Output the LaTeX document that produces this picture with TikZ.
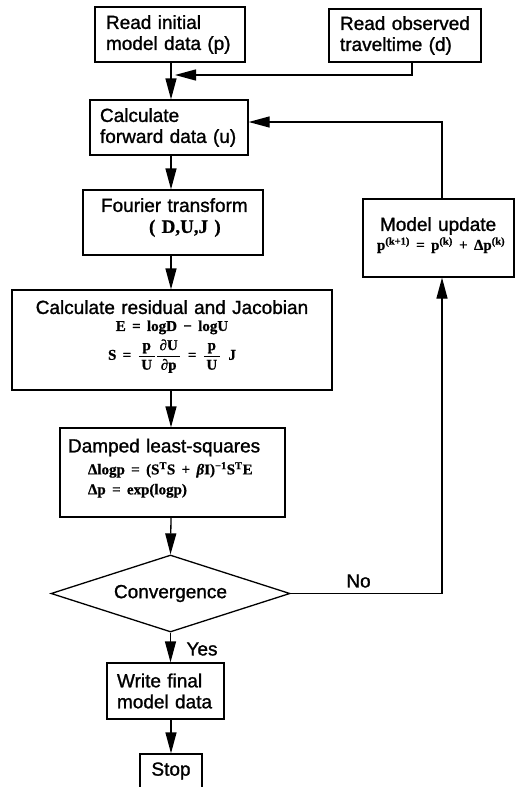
\documentclass[tikz,border=0pt]{standalone}
\usepackage{fontspec}
\setmainfont{Liberation Sans}
\newfontfamily\lbl[FakeBold=1.2]{Liberation Sans}
\newfontfamily\fml[FakeBold=0.8]{Liberation Serif}
\usetikzlibrary{arrows.meta,shapes.geometric}
\newcommand\fm{\fml\bfseries\fontsize{15}{17}\selectfont}
\newcommand\fr[2]{\displaystyle\frac{\hbox{\,#1\,}}{\hbox{\,#2\,}}}
\begin{document}
\begin{tikzpicture}[x=1pt,y=-1pt,
  lw/.style={line width=1.3pt},
  box/.style={draw, lw, rectangle, inner ysep=0pt, font=\lbl\fontsize{19}{21}\selectfont},
  arr/.style={lw, -{Triangle[length=21pt,width=11pt]}},
  lab/.style={inner sep=0pt, font=\lbl\fontsize{19}{21}\selectfont}]
\path[use as bounding box, clip] (0,0) rectangle (516,787);
\fill[white] (0,0) rectangle (516,787);
\coordinate (ax) at (171,0);
\coordinate (fb) at (442,0);
\coordinate (join) at (171,75);

\node[box, minimum width=150pt, minimum height=55pt, text width=128pt, inner xsep=11pt, align=left] (init) at (170,34.5) {\mbox{Read initial}\\\mbox{model data (p)}};
\node[box, minimum width=152pt, minimum height=53pt, text width=130pt, inner xsep=11pt, align=left] (obs) at (405,35.5) {\mbox{Read observed}\\\mbox{traveltime (d)}};
\node[box, minimum width=158pt, minimum height=55pt, text width=138pt, inner xsep=10pt, align=left] (fwd) at (169,127.5) {\mbox{Calculate}\\\mbox{forward data (u)}};
\node[box, minimum width=180pt, minimum height=65pt, text width=144pt, inner xsep=18pt, align=left] (four) at (173,222.5) {\mbox{Fourier transform}\\\hspace*{48pt}{\fml\bfseries\fontsize{19}{21}\selectfont ( D,U,J )}\rule[-14pt]{0pt}{14pt}};
\node[box, minimum width=320pt, minimum height=100pt, text width=304pt, inner xsep=8pt, align=center] (resid) at (172,340) {Calculate residual and Jacobian\\[-4pt]
  {\fm E = logD − logU}\\[4pt]
  {\fm S = $\fr{p}{U}\fr{∂U}{∂p}$ = $\fr{p}{U}$\enspace J}\rule[-20pt]{0pt}{20pt}};
\node[box, minimum width=225pt, minimum height=89pt, text width=209pt, inner xsep=8pt, align=left] (damp) at (172.5,472.5) {\mbox{Damped least-squares}\\[1pt]
  \hspace*{20pt}\mbox{\fm Δlogp = (S\textsuperscript{T}S + \textit{β}I)\textsuperscript{−1}S\textsuperscript{T}E}\\[-1pt]
  \hspace*{20pt}\mbox{\fm Δp = exp(logp)}\rule[-12pt]{0pt}{12pt}};
\node[box, minimum width=151pt, minimum height=78pt, text width=117pt, inner xsep=17pt, align=left] (mu) at (438.5,238) {\mbox{Model update}\\[-2pt]
  \hspace*{-3pt}\mbox{\fm p\textsuperscript{(k+1)} = p\textsuperscript{(k)} + Δp\textsuperscript{(k)}}\rule[-9pt]{0pt}{9pt}};
\node[draw, lw, diamond, aspect=3.1, minimum width=239pt, minimum height=77pt, inner sep=0pt, font=\lbl\fontsize{19}{21}\selectfont] (conv) at (170.5,593.5) {Convergence};
\node[box, minimum width=117pt, minimum height=56pt, text width=97pt, inner xsep=10pt, align=left] (write) at (165.5,691) {\mbox{Write final}\\\mbox{model data}};
\node[box, minimum width=62pt, minimum height=44pt, inner xsep=0pt, align=center] (stop) at (171,776) {Stop\rule[-14pt]{0pt}{14pt}};
\node[lab] (yes) at (202,649) {Yes};
\node[lab] (no) at (358.5,581) {No};

\draw[arr] (init.south -| ax) -- (fwd.north -| ax);
\draw[arr, shorten >=4pt] ([xshift=7pt]obs.south) |- (join);
\draw[arr] (fwd.south -| ax) -- (four.north -| ax);
\draw[arr] (four.south -| ax) -- (resid.north -| ax);
\draw[arr] (resid.south -| ax) -- (damp.north -| ax);
\draw[arr] (damp.south -| ax) -- (conv.north);
\draw[arr] (conv.south) -- (write.north -| conv.south);
\draw[arr] (write.south -| ax) -- (stop.north);
\draw[arr] (conv.east) -| (mu.south -| fb);
\draw[arr] (mu.north -| fb) |- ([yshift=5.5pt]fwd.east);
\end{tikzpicture}
\end{document}
